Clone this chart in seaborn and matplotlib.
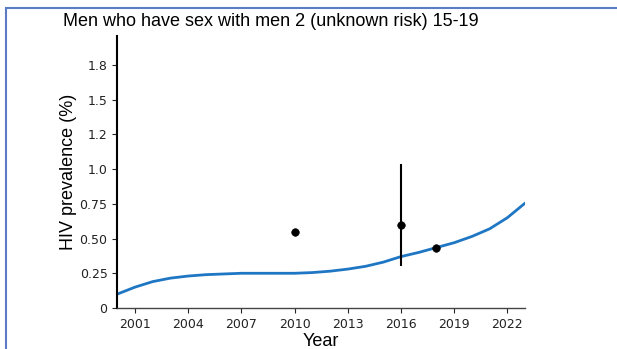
import matplotlib
matplotlib.use("Agg")
import matplotlib.pyplot as plt
import seaborn as sns
import pandas as pd
from matplotlib.patches import Rectangle

# Data
curve_years = [2000, 2001, 2002, 2003, 2004, 2005, 2006, 2007, 2008, 2009, 2010, 2011,
               2012, 2013, 2014, 2015, 2016, 2017, 2018, 2019, 2020, 2021, 2022, 2023]
curve_prev = [0.10, 0.15, 0.19, 0.215, 0.23, 0.24, 0.245, 0.25, 0.25, 0.25, 0.25, 0.255,
              0.265, 0.28, 0.30, 0.33, 0.37, 0.40, 0.435, 0.47, 0.515, 0.57, 0.65, 0.755]
obs_years = [2010, 2016, 2018]
obs_prev = [0.55, 0.60, 0.43]
obs_lo = [None, 0.30, None]
obs_hi = [None, 1.04, None]
ytick_vals = [0, 0.25, 0.5, 0.75, 1.0, 1.25, 1.5, 1.75]
ytick_labels = ["0", "0.25", "0.50", "0.75", "1.0", "1.2", "1.5", "1.8"]
xtick_vals = [2001, 2004, 2007, 2010, 2013, 2016, 2019, 2022]

sns.set_style("ticks")
plt.rcParams['font.family'] = ['DejaVu Sans']

fig = plt.figure(figsize=(6.17, 3.49), dpi=100)
ax = fig.add_axes([0.19, 0.1175, 0.661, 0.78])

curve_df = pd.DataFrame({"Year": curve_years, "Prev": curve_prev})
sns.lineplot(data=curve_df, x="Year", y="Prev", ax=ax, color="#1f77c4", linewidth=2)

obs_df = pd.DataFrame({"Year": obs_years, "Prev": obs_prev})
for yr, lo, hi in zip(obs_years, obs_lo, obs_hi):
    if lo is not None:
        ax.vlines(yr, lo, hi, color="black", linewidth=1.5)
sns.scatterplot(data=obs_df, x="Year", y="Prev", ax=ax, color="black", s=30,
                edgecolor="black", zorder=5)

ax.set_xlim(2000, 2023)
ax.set_ylim(0, 1.96)
ax.set_xticks(xtick_vals)
ax.set_xticklabels([str(v) for v in xtick_vals], fontsize=9, color="#222222")
ax.set_yticks(ytick_vals)
ax.set_yticklabels(ytick_labels, fontsize=9, color="#222222")
ax.set_xlabel("Year", fontsize=13, labelpad=2, family=["Liberation Sans"], color="black")
ax.set_ylabel("HIV prevalence (%)", fontsize=13, labelpad=2, family=["Liberation Sans"],
              color="black")
fig.text(271 / 617, 1 - 22 / 349, "Men who have sex with men 2 (unknown risk) 15-19",
         fontsize=13, family=["Liberation Sans"], color="black", ha="center", va="center")
sns.despine(ax=ax)
ax.spines['left'].set_linewidth(1.5)
ax.spines['left'].set_color('black')
ax.spines['bottom'].set_linewidth(1.0)
ax.spines['bottom'].set_color('#444444')

fig.patches.append(Rectangle((6/617, -0.01), 1.0, 1 - 8/349 + 0.01, transform=fig.transFigure,
                             fill=False, edgecolor="#5b7bc4", linewidth=1.5))

fig.savefig("out.png", dpi=100)
